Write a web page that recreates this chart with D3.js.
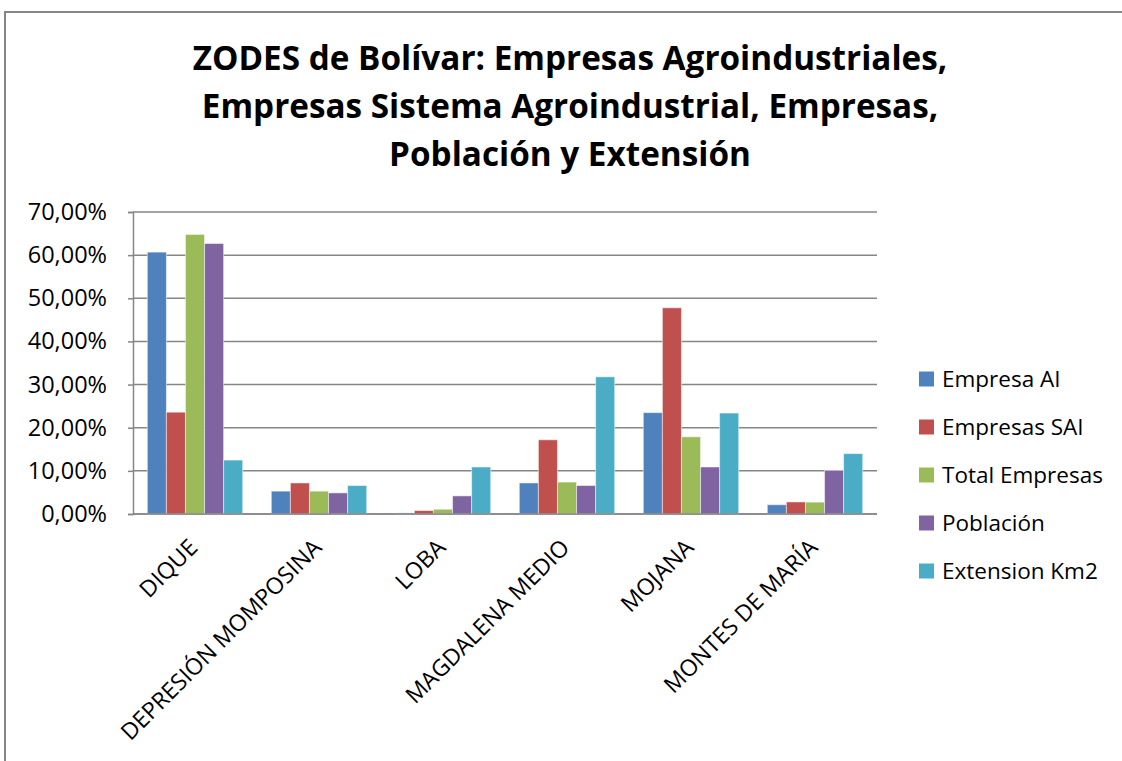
<!DOCTYPE html>
<html>
<head>
<meta charset="utf-8">
<script src="https://cdn.jsdelivr.net/npm/d3@7"></script>
<style>
  body { margin: 0; background: #fff; }
  svg { display: block; }
  text { font-family: "Open Sans", sans-serif; fill: #000; }
</style>
</head>
<body>
<div id="viz"></div>
<script>
const categories = ["DIQUE", "DEPRESIÓN MOMPOSINA", "LOBA", "MAGDALENA MEDIO", "MOJANA", "MONTES DE MARÍA"];
const seriesNames = ["Empresa AI", "Empresas SAI", "Total Empresas", "Población", "Extension Km2"];
const seriesColors = ["#4F81BD", "#C0504D", "#9BBB59", "#8064A2", "#4BACC6"];

// one array per series, same order as categories
const empresaAI = [0.607, 0.053, 0.0025, 0.072, 0.235, 0.0215];
const empresasSAI = [0.236, 0.072, 0.008, 0.172, 0.478, 0.028];
const totalEmpresas = [0.648, 0.053, 0.011, 0.074, 0.179, 0.0275];
const poblacion = [0.627, 0.049, 0.042, 0.066, 0.109, 0.101];
const extensionKm2 = [0.125, 0.066, 0.109, 0.318, 0.234, 0.140];

const yTicks = [0, 0.1, 0.2, 0.3, 0.4, 0.5, 0.6, 0.7];
const titleLines = [
  "ZODES de Bolívar: Empresas Agroindustriales,",
  "Empresas Sistema Agroindustrial, Empresas,",
  "Población y Extensión"
];

const seriesValues = [empresaAI, empresasSAI, totalEmpresas, poblacion, extensionKm2];

const width = 1122, height = 761;
const plot = { left: 133, right: 877, top: 212, bottom: 514 };

const svg = d3.select("#viz").append("svg")
  .attr("width", width)
  .attr("height", height);

// outer chart frame (only top and left edges show in the crop)
svg.append("path")
  .attr("d", `M5,${height} L5,12 L${width},12`)
  .attr("fill", "none")
  .attr("stroke", "#868686")
  .attr("stroke-width", 2);

// title, sized so the first line spans about the same width as the original
const title = svg.append("g");
const titleTexts = title.selectAll("text")
  .data(titleLines)
  .join("text")
  .attr("x", 570)
  .attr("y", (d, i) => 70 + i * 48)
  .attr("text-anchor", "middle")
  .attr("font-weight", "bold")
  .attr("font-size", 34)
  .text(d => d);
const firstWidth = titleTexts.node().getComputedTextLength();
titleTexts.attr("font-size", 34 * 755 / firstWidth);

const esLocale = d3.formatLocale({ decimal: ",", thousands: ".", grouping: [3], currency: ["", "€"] });
const pct = esLocale.format(".2%");

const x0 = d3.scaleBand()
  .domain(categories)
  .range([plot.left, plot.right])
  .padding(0);

const gapHalf = x0.bandwidth() * 1.5 / 6.5 / 2;
const x1 = d3.scaleBand()
  .domain(seriesNames)
  .range([gapHalf, x0.bandwidth() - gapHalf])
  .padding(0);

const y = d3.scaleLinear()
  .domain([0, 0.7])
  .range([plot.bottom, plot.top]);

// gridlines
svg.append("g")
  .selectAll("line")
  .data(yTicks)
  .join("line")
  .attr("x1", plot.left)
  .attr("x2", plot.right)
  .attr("y1", d => y(d))
  .attr("y2", d => y(d))
  .attr("stroke", "#868686")
  .attr("stroke-width", 1.5);

// y axis
const yAxis = svg.append("g")
  .attr("transform", `translate(${plot.left},0)`)
  .call(d3.axisLeft(y).tickValues(yTicks).tickFormat(pct).tickSize(5).tickPadding(21));
yAxis.select(".domain").attr("stroke", "#868686").attr("stroke-width", 1.5);
yAxis.selectAll(".tick line").attr("stroke", "#868686").attr("stroke-width", 1.5);
yAxis.selectAll(".tick text")
  .attr("font-family", "Open Sans, sans-serif")
  .attr("font-size", 23.5)
  .attr("fill", "#000");

// bars
const groups = svg.append("g")
  .selectAll("g")
  .data(categories)
  .join("g")
  .attr("transform", d => `translate(${x0(d)},0)`);

groups.selectAll("rect")
  .data((c, ci) => seriesNames.map((s, si) => ({ series: s, value: seriesValues[si][ci], color: seriesColors[si] })))
  .join("rect")
  .attr("x", d => x1(d.series))
  .attr("y", d => y(d.value))
  .attr("width", x1.bandwidth())
  .attr("height", d => y(0) - y(d.value))
  .attr("fill", d => d.color)
  .attr("stroke", "#ffffff")
  .attr("stroke-opacity", 0.5)
  .attr("stroke-width", 1);

// x axis line
svg.append("line")
  .attr("x1", plot.left)
  .attr("x2", plot.right)
  .attr("y1", plot.bottom)
  .attr("y2", plot.bottom)
  .attr("stroke", "#868686")
  .attr("stroke-width", 1.5);

// category labels, rotated 45 degrees
svg.append("g")
  .selectAll("text")
  .data(categories)
  .join("text")
  .attr("transform", d => `translate(${x0(d) + x0.bandwidth() / 2 + 4},549) rotate(-45)`)
  .attr("text-anchor", "end")
  .attr("font-size", 23)
  .text(d => d);

// legend
const legend = svg.append("g")
  .selectAll("g")
  .data(seriesNames)
  .join("g")
  .attr("transform", (d, i) => `translate(919,${379 + i * 48})`);

legend.append("rect")
  .attr("x", 0)
  .attr("y", -7.5)
  .attr("width", 15)
  .attr("height", 15)
  .attr("fill", (d, i) => seriesColors[i]);

legend.append("text")
  .attr("x", 23)
  .attr("dy", "0.35em")
  .attr("font-size", 22.5)
  .text(d => d);
</script>
</body>
</html>
